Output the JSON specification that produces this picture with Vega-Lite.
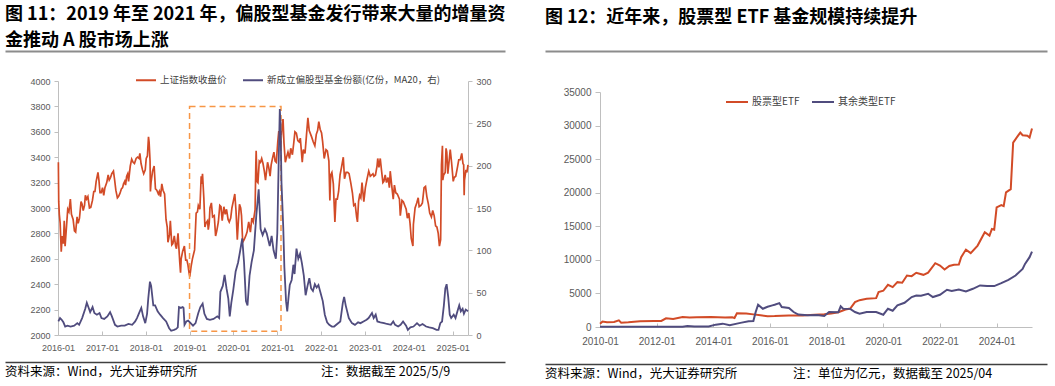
{
"$schema": "https://vega.github.io/schema/vega-lite/v6.json",
"background": "white",
"padding": {"left": 5, "top": 5, "right": 0, "bottom": 0},
"config": {
  "font": "Noto Sans CJK SC",
  "view": {"stroke": null},
  "axis": {"labelFont": "Liberation Sans", "labelColor": "#595959", "domainColor": "#BFBFBF", "tickColor": "#BFBFBF", "grid": false, "labelFlush": false, "labelOverlap": false},
  "title": {"anchor": "start", "frame": "bounds", "font": "Noto Sans CJK SC", "color": "#000000"},
  "legend": {"labelFont": "Noto Sans CJK SC", "labelColor": "#404040", "symbolStrokeWidth": 2, "symbolSize": 400, "labelOffset": 3, "labelLimit": 400}
},
"datasets": {
"box": [{"x0": "2019-01-01", "x1": "2021-02-01", "y0": 2030, "y1": 3800}],
"sse": [
{"d":"2016-01-04","v":3360},{"d":"2016-01-07","v":3050},{"d":"2016-01-12","v":2950},{"d":"2016-01-19","v":2880},{"d":"2016-01-28","v":2655},
{"d":"2016-02-05","v":2780},{"d":"2016-02-15","v":2720},{"d":"2016-02-22","v":2900},{"d":"2016-02-29","v":2700},{"d":"2016-03-10","v":2830},
{"d":"2016-03-22","v":2990},{"d":"2016-04-01","v":2970},{"d":"2016-04-13","v":3070},{"d":"2016-04-22","v":2950},{"d":"2016-05-06","v":2910},
{"d":"2016-05-17","v":2820},{"d":"2016-05-27","v":2810},{"d":"2016-06-08","v":2930},{"d":"2016-06-17","v":2880},{"d":"2016-06-28","v":2920},
{"d":"2016-07-11","v":3050},{"d":"2016-07-20","v":3030},{"d":"2016-07-29","v":2980},{"d":"2016-08-09","v":3020},{"d":"2016-08-16","v":3100},
{"d":"2016-08-26","v":3070},{"d":"2016-09-06","v":3090},{"d":"2016-09-19","v":3000},{"d":"2016-09-30","v":3005},{"d":"2016-10-14","v":3060},
{"d":"2016-10-25","v":3130},{"d":"2016-11-04","v":3130},{"d":"2016-11-14","v":3210},{"d":"2016-11-25","v":3260},{"d":"2016-11-29","v":3280},
{"d":"2016-12-07","v":3220},{"d":"2016-12-16","v":3120},{"d":"2016-12-26","v":3120},{"d":"2017-01-06","v":3160},{"d":"2017-01-16","v":3100},
{"d":"2017-01-26","v":3160},{"d":"2017-02-10","v":3200},{"d":"2017-02-22","v":3260},{"d":"2017-03-03","v":3220},{"d":"2017-03-14","v":3240},
{"d":"2017-03-24","v":3270},{"d":"2017-04-07","v":3290},{"d":"2017-04-17","v":3220},{"d":"2017-04-27","v":3140},{"d":"2017-05-10","v":3080},
{"d":"2017-05-19","v":3090},{"d":"2017-05-31","v":3115},{"d":"2017-06-12","v":3150},{"d":"2017-06-22","v":3160},{"d":"2017-06-30","v":3190},
{"d":"2017-07-10","v":3210},{"d":"2017-07-17","v":3180},{"d":"2017-07-26","v":3250},{"d":"2017-08-04","v":3270},{"d":"2017-08-11","v":3210},
{"d":"2017-08-25","v":3330},{"d":"2017-09-06","v":3385},{"d":"2017-09-18","v":3360},{"d":"2017-09-29","v":3350},{"d":"2017-10-13","v":3390},
{"d":"2017-10-25","v":3400},{"d":"2017-11-06","v":3390},{"d":"2017-11-13","v":3430},{"d":"2017-11-23","v":3350},{"d":"2017-12-05","v":3300},
{"d":"2017-12-15","v":3270},{"d":"2017-12-28","v":3300},{"d":"2018-01-05","v":3390},{"d":"2018-01-15","v":3410},{"d":"2018-01-24","v":3560},
{"d":"2018-01-29","v":3520},{"d":"2018-02-06","v":3370},{"d":"2018-02-09","v":3130},{"d":"2018-02-14","v":3200},{"d":"2018-02-27","v":3290},
{"d":"2018-03-12","v":3330},{"d":"2018-03-23","v":3150},{"d":"2018-04-03","v":3140},{"d":"2018-04-16","v":3110},{"d":"2018-04-24","v":3130},
{"d":"2018-05-04","v":3090},{"d":"2018-05-15","v":3190},{"d":"2018-05-25","v":3140},{"d":"2018-06-07","v":3110},{"d":"2018-06-19","v":2910},
{"d":"2018-06-29","v":2850},{"d":"2018-07-05","v":2730},{"d":"2018-07-18","v":2790},{"d":"2018-07-25","v":2900},{"d":"2018-08-06","v":2710},
{"d":"2018-08-15","v":2720},{"d":"2018-08-27","v":2780},{"d":"2018-09-07","v":2700},{"d":"2018-09-14","v":2680},{"d":"2018-09-27","v":2800},
{"d":"2018-10-11","v":2580},{"d":"2018-10-18","v":2490},{"d":"2018-10-23","v":2600},{"d":"2018-11-05","v":2660},{"d":"2018-11-19","v":2700},
{"d":"2018-11-30","v":2590},{"d":"2018-12-10","v":2590},{"d":"2018-12-19","v":2550},{"d":"2018-12-28","v":2490},{"d":"2019-01-03","v":2460},
{"d":"2019-01-14","v":2540},{"d":"2019-01-25","v":2600},{"d":"2019-02-12","v":2670},{"d":"2019-02-25","v":2960},{"d":"2019-03-08","v":2970},
{"d":"2019-03-15","v":3020},{"d":"2019-03-28","v":2990},{"d":"2019-04-08","v":3250},{"d":"2019-04-12","v":3190},{"d":"2019-04-19","v":3270},
{"d":"2019-04-30","v":3080},{"d":"2019-05-09","v":2850},{"d":"2019-05-17","v":2880},{"d":"2019-05-31","v":2900},{"d":"2019-06-06","v":2830},
{"d":"2019-06-14","v":2880},{"d":"2019-06-20","v":3000},{"d":"2019-07-02","v":3040},{"d":"2019-07-12","v":2930},{"d":"2019-07-26","v":2940},
{"d":"2019-08-06","v":2780},{"d":"2019-08-16","v":2820},{"d":"2019-08-29","v":2890},{"d":"2019-09-10","v":3020},{"d":"2019-09-20","v":3010},
{"d":"2019-09-30","v":2900},{"d":"2019-10-14","v":3010},{"d":"2019-10-25","v":2950},{"d":"2019-11-05","v":2990},{"d":"2019-11-18","v":2910},
{"d":"2019-11-28","v":2890},{"d":"2019-12-10","v":2920},{"d":"2019-12-20","v":3000},{"d":"2019-12-31","v":3050},{"d":"2020-01-13","v":3110},
{"d":"2020-01-23","v":2980},{"d":"2020-02-03","v":2750},{"d":"2020-02-12","v":2900},{"d":"2020-02-21","v":3030},{"d":"2020-03-02","v":3000},
{"d":"2020-03-09","v":2940},{"d":"2020-03-19","v":2730},{"d":"2020-03-31","v":2750},{"d":"2020-04-13","v":2780},{"d":"2020-04-24","v":2810},
{"d":"2020-05-08","v":2890},{"d":"2020-05-22","v":2810},{"d":"2020-06-03","v":2920},{"d":"2020-06-15","v":2890},{"d":"2020-06-30","v":2985},
{"d":"2020-07-06","v":3330},{"d":"2020-07-09","v":3450},{"d":"2020-07-16","v":3210},{"d":"2020-07-24","v":3200},{"d":"2020-08-04","v":3370},
{"d":"2020-08-14","v":3360},{"d":"2020-08-24","v":3390},{"d":"2020-09-04","v":3350},{"d":"2020-09-15","v":3290},{"d":"2020-09-25","v":3220},
{"d":"2020-10-12","v":3360},{"d":"2020-10-22","v":3320},{"d":"2020-11-02","v":3250},{"d":"2020-11-11","v":3340},{"d":"2020-11-24","v":3400},
{"d":"2020-12-04","v":3440},{"d":"2020-12-14","v":3370},{"d":"2020-12-24","v":3360},{"d":"2021-01-05","v":3520},{"d":"2021-01-13","v":3600},
{"d":"2021-01-22","v":3600},{"d":"2021-01-29","v":3480},{"d":"2021-02-10","v":3650},{"d":"2021-02-18","v":3700},{"d":"2021-02-26","v":3510},
{"d":"2021-03-09","v":3360},{"d":"2021-03-19","v":3400},{"d":"2021-03-31","v":3440},{"d":"2021-04-13","v":3390},{"d":"2021-04-23","v":3470},
{"d":"2021-05-07","v":3420},{"d":"2021-05-18","v":3510},{"d":"2021-05-28","v":3600},{"d":"2021-06-09","v":3590},{"d":"2021-06-21","v":3530},
{"d":"2021-07-02","v":3520},{"d":"2021-07-12","v":3550},{"d":"2021-07-28","v":3360},{"d":"2021-08-06","v":3460},{"d":"2021-08-20","v":3430},
{"d":"2021-09-01","v":3570},{"d":"2021-09-13","v":3710},{"d":"2021-09-24","v":3610},{"d":"2021-10-14","v":3560},{"d":"2021-10-28","v":3520},
{"d":"2021-11-10","v":3490},{"d":"2021-11-22","v":3580},{"d":"2021-12-03","v":3610},{"d":"2021-12-13","v":3680},{"d":"2021-12-24","v":3620},
{"d":"2022-01-05","v":3590},{"d":"2022-01-14","v":3520},{"d":"2022-01-27","v":3390},{"d":"2022-02-11","v":3460},{"d":"2022-02-22","v":3450},
{"d":"2022-03-07","v":3370},{"d":"2022-03-15","v":3060},{"d":"2022-03-22","v":3260},{"d":"2022-04-01","v":3280},{"d":"2022-04-13","v":3190},
{"d":"2022-04-26","v":2890},{"d":"2022-05-05","v":3070},{"d":"2022-05-16","v":3070},{"d":"2022-05-27","v":3130},{"d":"2022-06-08","v":3260},
{"d":"2022-06-20","v":3320},{"d":"2022-07-05","v":3400},{"d":"2022-07-15","v":3230},{"d":"2022-07-28","v":3280},{"d":"2022-08-11","v":3280},
{"d":"2022-08-22","v":3270},{"d":"2022-09-05","v":3200},{"d":"2022-09-19","v":3120},{"d":"2022-09-30","v":3020},{"d":"2022-10-12","v":3030},
{"d":"2022-10-24","v":2930},{"d":"2022-10-31","v":2890},{"d":"2022-11-09","v":3050},{"d":"2022-11-18","v":3100},{"d":"2022-11-28","v":3080},
{"d":"2022-12-08","v":3200},{"d":"2022-12-23","v":3050},{"d":"2023-01-05","v":3160},{"d":"2023-01-17","v":3220},{"d":"2023-02-02","v":3290},
{"d":"2023-02-15","v":3250},{"d":"2023-02-27","v":3260},{"d":"2023-03-09","v":3270},{"d":"2023-03-17","v":3250},{"d":"2023-03-30","v":3260},
{"d":"2023-04-12","v":3330},{"d":"2023-04-18","v":3390},{"d":"2023-04-28","v":3320},{"d":"2023-05-09","v":3390},{"d":"2023-05-19","v":3300},
{"d":"2023-05-31","v":3200},{"d":"2023-06-08","v":3210},{"d":"2023-06-19","v":3260},{"d":"2023-06-30","v":3200},{"d":"2023-07-13","v":3240},
{"d":"2023-07-24","v":3160},{"d":"2023-07-31","v":3290},{"d":"2023-08-11","v":3190},{"d":"2023-08-25","v":3070},{"d":"2023-09-04","v":3180},
{"d":"2023-09-15","v":3120},{"d":"2023-09-28","v":3110},{"d":"2023-10-16","v":3070},{"d":"2023-10-23","v":2940},{"d":"2023-11-06","v":3060},
{"d":"2023-11-17","v":3050},{"d":"2023-11-29","v":3020},{"d":"2023-12-11","v":2990},{"d":"2023-12-21","v":2920},{"d":"2024-01-02","v":2960},
{"d":"2024-01-12","v":2880},{"d":"2024-01-22","v":2760},{"d":"2024-02-05","v":2700},{"d":"2024-02-09","v":2870},{"d":"2024-02-23","v":3000},
{"d":"2024-03-08","v":3040},{"d":"2024-03-20","v":3080},{"d":"2024-03-28","v":3010},{"d":"2024-04-12","v":3020},{"d":"2024-04-24","v":3040},
{"d":"2024-05-08","v":3160},{"d":"2024-05-20","v":3170},{"d":"2024-05-31","v":3090},{"d":"2024-06-13","v":3030},{"d":"2024-06-24","v":2960},
{"d":"2024-07-08","v":2930},{"d":"2024-07-19","v":2980},{"d":"2024-07-31","v":2940},{"d":"2024-08-12","v":2860},{"d":"2024-08-23","v":2850},
{"d":"2024-09-03","v":2800},{"d":"2024-09-13","v":2700},{"d":"2024-09-23","v":2750},{"d":"2024-09-27","v":3090},{"d":"2024-09-30","v":3340},
{"d":"2024-10-08","v":3490},{"d":"2024-10-11","v":3220},{"d":"2024-10-18","v":3260},{"d":"2024-10-31","v":3280},{"d":"2024-11-07","v":3470},
{"d":"2024-11-13","v":3440},{"d":"2024-11-22","v":3270},{"d":"2024-12-06","v":3400},{"d":"2024-12-12","v":3460},{"d":"2024-12-23","v":3360},
{"d":"2025-01-06","v":3210},{"d":"2025-01-14","v":3240},{"d":"2025-01-27","v":3250},{"d":"2025-02-10","v":3320},{"d":"2025-02-21","v":3380},
{"d":"2025-03-06","v":3380},{"d":"2025-03-18","v":3430},{"d":"2025-03-28","v":3350},{"d":"2025-04-03","v":3340},{"d":"2025-04-07","v":3100},
{"d":"2025-04-10","v":3220},{"d":"2025-04-22","v":3300},{"d":"2025-04-30","v":3280},{"d":"2025-05-09","v":3340}
],
"fund": [
{"d":"2016-01-04","v":16},{"d":"2016-01-18","v":20},{"d":"2016-02-01","v":18},{"d":"2016-02-15","v":15},{"d":"2016-03-01","v":10},
{"d":"2016-03-20","v":11},{"d":"2016-04-15","v":10},{"d":"2016-05-15","v":11},{"d":"2016-06-10","v":14},{"d":"2016-06-25","v":12},
{"d":"2016-07-20","v":20},{"d":"2016-08-15","v":31},{"d":"2016-08-28","v":38},{"d":"2016-09-10","v":33},{"d":"2016-09-25","v":27},
{"d":"2016-10-15","v":33},{"d":"2016-10-30","v":26},{"d":"2016-11-20","v":24},{"d":"2016-12-12","v":26},{"d":"2016-12-28","v":20},
{"d":"2017-01-20","v":19},{"d":"2017-02-15","v":22},{"d":"2017-03-10","v":27},{"d":"2017-03-25","v":22},{"d":"2017-04-20","v":12},
{"d":"2017-05-10","v":10},{"d":"2017-06-10","v":11},{"d":"2017-07-10","v":11},{"d":"2017-08-10","v":13},{"d":"2017-09-10","v":12},
{"d":"2017-10-05","v":16},{"d":"2017-10-20","v":20},{"d":"2017-11-10","v":27},{"d":"2017-11-25","v":32},{"d":"2017-12-10","v":22},
{"d":"2017-12-28","v":14},{"d":"2018-01-12","v":25},{"d":"2018-01-22","v":43},{"d":"2018-02-05","v":63},{"d":"2018-02-15","v":58},
{"d":"2018-03-05","v":35},{"d":"2018-03-20","v":35},{"d":"2018-04-10","v":28},{"d":"2018-05-01","v":24},{"d":"2018-05-25","v":20},
{"d":"2018-06-20","v":16},{"d":"2018-07-15","v":8},{"d":"2018-08-01","v":5},{"d":"2018-08-25","v":6},{"d":"2018-09-10","v":7},
{"d":"2018-09-25","v":9},{"d":"2018-10-05","v":33},{"d":"2018-10-20","v":32},{"d":"2018-11-05","v":33},{"d":"2018-11-12","v":32},
{"d":"2018-11-20","v":12},{"d":"2018-12-05","v":16},{"d":"2018-12-20","v":17},{"d":"2019-01-10","v":14},{"d":"2019-01-30","v":11},
{"d":"2019-02-20","v":14},{"d":"2019-03-15","v":26},{"d":"2019-04-01","v":33},{"d":"2019-04-20","v":37},{"d":"2019-05-05","v":25},
{"d":"2019-05-25","v":19},{"d":"2019-06-20","v":18},{"d":"2019-07-20","v":19},{"d":"2019-08-20","v":22},{"d":"2019-09-05","v":20},
{"d":"2019-09-15","v":51},{"d":"2019-10-05","v":58},{"d":"2019-10-20","v":71},{"d":"2019-11-05","v":55},{"d":"2019-11-20","v":43},
{"d":"2019-12-02","v":22},{"d":"2019-12-15","v":38},{"d":"2020-01-01","v":54},{"d":"2020-01-20","v":75},{"d":"2020-02-10","v":86},
{"d":"2020-02-25","v":98},{"d":"2020-03-15","v":114},{"d":"2020-03-30","v":86},{"d":"2020-04-15","v":40},{"d":"2020-04-28","v":35},
{"d":"2020-05-15","v":70},{"d":"2020-06-01","v":86},{"d":"2020-06-20","v":100},{"d":"2020-07-10","v":141},{"d":"2020-07-30","v":172},
{"d":"2020-08-15","v":125},{"d":"2020-09-01","v":118},{"d":"2020-09-20","v":125},{"d":"2020-10-05","v":120},{"d":"2020-10-30","v":105},
{"d":"2020-11-15","v":117},{"d":"2020-12-01","v":100},{"d":"2020-12-20","v":90},{"d":"2021-01-01","v":120},{"d":"2021-01-12","v":200},
{"d":"2021-01-22","v":267},{"d":"2021-01-28","v":250},{"d":"2021-02-05","v":180},{"d":"2021-02-20","v":126},{"d":"2021-03-01","v":80},
{"d":"2021-03-15","v":40},{"d":"2021-03-25","v":28},{"d":"2021-04-05","v":45},{"d":"2021-04-15","v":59},{"d":"2021-05-01","v":65},
{"d":"2021-05-15","v":83},{"d":"2021-05-25","v":72},{"d":"2021-06-10","v":102},{"d":"2021-06-25","v":90},{"d":"2021-07-10","v":96},
{"d":"2021-07-25","v":85},{"d":"2021-08-10","v":70},{"d":"2021-08-25","v":47},{"d":"2021-09-10","v":58},{"d":"2021-09-25","v":67},
{"d":"2021-10-10","v":55},{"d":"2021-10-25","v":52},{"d":"2021-11-10","v":60},{"d":"2021-11-25","v":56},{"d":"2021-12-10","v":59},
{"d":"2021-12-25","v":51},{"d":"2022-01-15","v":40},{"d":"2022-02-01","v":24},{"d":"2022-02-20","v":15},{"d":"2022-03-10","v":12},
{"d":"2022-04-01","v":10},{"d":"2022-04-20","v":10},{"d":"2022-05-15","v":13},{"d":"2022-06-10","v":16},{"d":"2022-07-01","v":38},
{"d":"2022-07-12","v":45},{"d":"2022-07-25","v":35},{"d":"2022-08-20","v":20},{"d":"2022-09-15","v":14},{"d":"2022-10-10","v":12},
{"d":"2022-11-05","v":15},{"d":"2022-11-25","v":14},{"d":"2022-12-20","v":16},{"d":"2023-01-15","v":18},{"d":"2023-02-01","v":20},
{"d":"2023-03-01","v":26},{"d":"2023-03-15","v":20},{"d":"2023-04-01","v":24},{"d":"2023-04-15","v":16},{"d":"2023-05-10","v":15},
{"d":"2023-06-10","v":14},{"d":"2023-07-05","v":13},{"d":"2023-08-05","v":12},{"d":"2023-08-25","v":16},{"d":"2023-09-10","v":12},
{"d":"2023-10-05","v":10},{"d":"2023-10-25","v":12},{"d":"2023-11-15","v":16},{"d":"2023-12-10","v":11},{"d":"2023-12-25","v":6},
{"d":"2024-01-15","v":9},{"d":"2024-02-10","v":10},{"d":"2024-03-10","v":14},{"d":"2024-04-01","v":11},{"d":"2024-04-25","v":13},
{"d":"2024-05-25","v":10},{"d":"2024-06-20","v":9},{"d":"2024-07-20","v":8},{"d":"2024-08-20","v":6},{"d":"2024-09-05","v":6},
{"d":"2024-09-20","v":14},{"d":"2024-10-05","v":16},{"d":"2024-10-20","v":35},{"d":"2024-11-01","v":55},{"d":"2024-11-12","v":60},
{"d":"2024-11-25","v":45},{"d":"2024-12-08","v":24},{"d":"2024-12-20","v":20},{"d":"2025-01-10","v":24},{"d":"2025-01-25","v":20},
{"d":"2025-02-10","v":28},{"d":"2025-02-25","v":35},{"d":"2025-03-10","v":28},{"d":"2025-03-25","v":31},{"d":"2025-04-05","v":25},
{"d":"2025-04-20","v":30},{"d":"2025-05-09","v":28}
],
"etf": [
{"d":"2010-01-01","v":500,"s":"股票型ETF"},{"d":"2010-02-01","v":800,"s":"股票型ETF"},{"d":"2010-04-01","v":700,"s":"股票型ETF"},{"d":"2010-07-01","v":750,"s":"股票型ETF"},{"d":"2010-09-01","v":1000,"s":"股票型ETF"},{"d":"2010-10-01","v":650,"s":"股票型ETF"},
{"d":"2011-01-01","v":700,"s":"股票型ETF"},{"d":"2011-06-01","v":850,"s":"股票型ETF"},{"d":"2011-12-01","v":880,"s":"股票型ETF"},{"d":"2012-03-01","v":900,"s":"股票型ETF"},{"d":"2012-05-01","v":1300,"s":"股票型ETF"},{"d":"2012-08-01","v":1200,"s":"股票型ETF"},
{"d":"2012-12-01","v":1500,"s":"股票型ETF"},{"d":"2013-03-01","v":1420,"s":"股票型ETF"},{"d":"2013-06-01","v":1450,"s":"股票型ETF"},{"d":"2013-12-01","v":1480,"s":"股票型ETF"},{"d":"2014-03-01","v":1450,"s":"股票型ETF"},{"d":"2014-06-01","v":1420,"s":"股票型ETF"},
{"d":"2014-09-01","v":1450,"s":"股票型ETF"},{"d":"2014-10-01","v":1350,"s":"股票型ETF"},{"d":"2014-11-01","v":2050,"s":"股票型ETF"},{"d":"2015-03-01","v":2000,"s":"股票型ETF"},{"d":"2015-06-01","v":1880,"s":"股票型ETF"},{"d":"2015-09-01","v":1750,"s":"股票型ETF"},
{"d":"2015-12-01","v":1600,"s":"股票型ETF"},{"d":"2016-03-01","v":1620,"s":"股票型ETF"},{"d":"2016-06-01","v":1680,"s":"股票型ETF"},{"d":"2016-09-01","v":1700,"s":"股票型ETF"},{"d":"2016-12-01","v":1720,"s":"股票型ETF"},{"d":"2017-03-01","v":1730,"s":"股票型ETF"},
{"d":"2017-06-01","v":1780,"s":"股票型ETF"},{"d":"2017-12-01","v":1900,"s":"股票型ETF"},{"d":"2018-03-01","v":2000,"s":"股票型ETF"},{"d":"2018-06-01","v":2200,"s":"股票型ETF"},{"d":"2018-09-01","v":2600,"s":"股票型ETF"},{"d":"2018-11-01","v":2750,"s":"股票型ETF"},
{"d":"2019-01-01","v":3700,"s":"股票型ETF"},{"d":"2019-03-01","v":4000,"s":"股票型ETF"},{"d":"2019-06-01","v":4200,"s":"股票型ETF"},{"d":"2019-10-01","v":4300,"s":"股票型ETF"},{"d":"2019-11-01","v":5200,"s":"股票型ETF"},{"d":"2020-01-01","v":5400,"s":"股票型ETF"},
{"d":"2020-03-01","v":6290,"s":"股票型ETF"},{"d":"2020-05-01","v":5940,"s":"股票型ETF"},{"d":"2020-07-01","v":6680,"s":"股票型ETF"},{"d":"2020-09-01","v":6600,"s":"股票型ETF"},{"d":"2020-11-01","v":7670,"s":"股票型ETF"},{"d":"2021-01-01","v":7570,"s":"股票型ETF"},
{"d":"2021-03-01","v":8070,"s":"股票型ETF"},{"d":"2021-06-01","v":7770,"s":"股票型ETF"},{"d":"2021-08-01","v":8100,"s":"股票型ETF"},{"d":"2021-11-01","v":9500,"s":"股票型ETF"},{"d":"2022-01-01","v":9160,"s":"股票型ETF"},{"d":"2022-03-01","v":8560,"s":"股票型ETF"},
{"d":"2022-05-01","v":9100,"s":"股票型ETF"},{"d":"2022-07-01","v":9260,"s":"股票型ETF"},{"d":"2022-09-01","v":9300,"s":"股票型ETF"},{"d":"2022-10-01","v":10400,"s":"股票型ETF"},{"d":"2022-12-01","v":11530,"s":"股票型ETF"},{"d":"2023-02-01","v":11000,"s":"股票型ETF"},
{"d":"2023-05-01","v":12130,"s":"股票型ETF"},{"d":"2023-08-01","v":14110,"s":"股票型ETF"},{"d":"2023-10-01","v":13610,"s":"股票型ETF"},{"d":"2023-11-01","v":14600,"s":"股票型ETF"},{"d":"2023-12-01","v":14500,"s":"股票型ETF"},{"d":"2024-01-01","v":17820,"s":"股票型ETF"},
{"d":"2024-03-01","v":18170,"s":"股票型ETF"},{"d":"2024-04-01","v":18000,"s":"股票型ETF"},{"d":"2024-05-01","v":20050,"s":"股票型ETF"},{"d":"2024-07-01","v":20540,"s":"股票型ETF"},{"d":"2024-08-01","v":27470,"s":"股票型ETF"},{"d":"2024-10-01","v":28460,"s":"股票型ETF"},
{"d":"2024-11-01","v":28960,"s":"股票型ETF"},{"d":"2024-12-01","v":28560,"s":"股票型ETF"},{"d":"2025-02-01","v":28500,"s":"股票型ETF"},{"d":"2025-03-01","v":28220,"s":"股票型ETF"},{"d":"2025-04-01","v":29550,"s":"股票型ETF"},
{"d":"2010-01-01","v":30,"s":"其余类型ETF"},{"d":"2012-12-01","v":40,"s":"其余类型ETF"},{"d":"2013-02-01","v":150,"s":"其余类型ETF"},{"d":"2013-05-01","v":60,"s":"其余类型ETF"},{"d":"2013-11-01","v":80,"s":"其余类型ETF"},{"d":"2014-02-01","v":350,"s":"其余类型ETF"},
{"d":"2014-05-01","v":500,"s":"其余类型ETF"},{"d":"2014-08-01","v":250,"s":"其余类型ETF"},{"d":"2014-11-01","v":500,"s":"其余类型ETF"},{"d":"2015-01-01","v":650,"s":"其余类型ETF"},{"d":"2015-04-01","v":850,"s":"其余类型ETF"},{"d":"2015-06-01","v":900,"s":"其余类型ETF"},
{"d":"2015-07-01","v":2230,"s":"其余类型ETF"},{"d":"2015-08-01","v":3320,"s":"其余类型ETF"},{"d":"2015-10-01","v":2720,"s":"其余类型ETF"},{"d":"2015-12-01","v":3020,"s":"其余类型ETF"},{"d":"2016-02-01","v":3220,"s":"其余类型ETF"},{"d":"2016-03-01","v":3320,"s":"其余类型ETF"},
{"d":"2016-05-01","v":3560,"s":"其余类型ETF"},{"d":"2016-06-01","v":2970,"s":"其余类型ETF"},{"d":"2016-09-01","v":2820,"s":"其余类型ETF"},{"d":"2016-11-01","v":2230,"s":"其余类型ETF"},{"d":"2017-01-01","v":1850,"s":"其余类型ETF"},{"d":"2017-05-01","v":1750,"s":"其余类型ETF"},
{"d":"2017-09-01","v":1800,"s":"其余类型ETF"},{"d":"2017-12-01","v":1630,"s":"其余类型ETF"},{"d":"2018-02-01","v":2230,"s":"其余类型ETF"},{"d":"2018-06-01","v":2200,"s":"其余类型ETF"},{"d":"2018-07-01","v":3070,"s":"其余类型ETF"},{"d":"2018-08-01","v":2720,"s":"其余类型ETF"},
{"d":"2018-11-01","v":2700,"s":"其余类型ETF"},{"d":"2019-01-01","v":2230,"s":"其余类型ETF"},{"d":"2019-03-01","v":1980,"s":"其余类型ETF"},{"d":"2019-06-01","v":2230,"s":"其余类型ETF"},{"d":"2019-10-01","v":2230,"s":"其余类型ETF"},{"d":"2020-01-01","v":1830,"s":"其余类型ETF"},
{"d":"2020-03-01","v":2720,"s":"其余类型ETF"},{"d":"2020-05-01","v":2425,"s":"其余类型ETF"},{"d":"2020-07-01","v":3220,"s":"其余类型ETF"},{"d":"2020-10-01","v":3610,"s":"其余类型ETF"},{"d":"2021-01-01","v":4460,"s":"其余类型ETF"},{"d":"2021-03-01","v":4700,"s":"其余类型ETF"},
{"d":"2021-05-01","v":4650,"s":"其余类型ETF"},{"d":"2021-08-01","v":4950,"s":"其余类型ETF"},{"d":"2021-10-01","v":4460,"s":"其余类型ETF"},{"d":"2022-01-01","v":4800,"s":"其余类型ETF"},{"d":"2022-04-01","v":5540,"s":"其余类型ETF"},{"d":"2022-06-01","v":5350,"s":"其余类型ETF"},
{"d":"2022-09-01","v":5590,"s":"其余类型ETF"},{"d":"2022-12-01","v":5300,"s":"其余类型ETF"},{"d":"2023-03-01","v":5690,"s":"其余类型ETF"},{"d":"2023-06-01","v":6190,"s":"其余类型ETF"},{"d":"2023-09-01","v":6100,"s":"其余类型ETF"},{"d":"2023-12-01","v":6090,"s":"其余类型ETF"},
{"d":"2024-03-01","v":6530,"s":"其余类型ETF"},{"d":"2024-06-01","v":7030,"s":"其余类型ETF"},{"d":"2024-09-01","v":7670,"s":"其余类型ETF"},{"d":"2024-12-01","v":8660,"s":"其余类型ETF"},{"d":"2025-01-01","v":9400,"s":"其余类型ETF"},{"d":"2025-03-01","v":10400,"s":"其余类型ETF"},
{"d":"2025-04-01","v":11240,"s":"其余类型ETF"}
]
},
"spacing": -13,
"resolve": {"scale": {"color": "independent"}, "legend": {"color": "independent"}},
"hconcat": [
{
  "spacing": 13,
  "resolve": {"scale": {"color": "independent"}, "legend": {"color": "independent"}},
  "vconcat": [
    {
      "width": 447, "height": 1,
      "title": {"text": ["图 11：2019 年至 2021 年，偏股型基金发行带来大量的增量资", "金推动 A 股市场上涨"], "fontSize": 18, "fontWeight": "bold", "lineHeight": 26, "offset": -5},
      "data": {"values": [{}]},
      "mark": {"type": "text"},
      "encoding": {
        "text": {"value": ""},
        "x": {"datum": 0, "type": "quantitative", "scale": {"domain": [0, 1], "range": [-53, 447]},
              "axis": {"orient": "bottom", "labels": false, "ticks": false, "title": null, "domainColor": "#8C8C8C", "domainWidth": 2}}
      }
    },
    {
      "spacing": 4,
      "resolve": {"scale": {"color": "independent"}, "legend": {"color": "independent"}},
      "vconcat": [
        {
          "width": 410, "height": 254,
          "layer": [
            {
              "layer": [
                {
                  "data": {"name": "sse"},
                  "mark": {"type": "line", "strokeWidth": 1.7},
                  "encoding": {
                    "x": {"field": "d", "type": "temporal", "scale": {"domain": ["2016-01-01", "2025-05-09"]},
                          "axis": {"title": null, "format": "%Y-%m", "tickCount": {"interval": "year", "step": 1}, "labelFontSize": 9, "tickSize": -4, "labelPadding": 12}},
                    "y": {"field": "v", "type": "quantitative", "scale": {"domain": [2000, 4000], "nice": false, "zero": false},
                          "axis": {"title": null, "orient": "left", "format": "d", "tickCount": 11, "values": [2000, 2200, 2400, 2600, 2800, 3000, 3200, 3400, 3600, 3800, 4000], "labelFontSize": 9, "tickSize": 4, "labelPadding": 4, "minExtent": 53}},
                    "color": {"datum": "上证指数收盘价", "type": "nominal",
                              "scale": {"domain": ["上证指数收盘价", "新成立偏股型基金份额(亿份，MA20，右)"], "range": ["#D24B27", "#504C7E"]},
                              "legend": {"orient": "none", "legendX": 77, "legendY": -12, "direction": "horizontal", "title": null, "labelFontSize": 9.5, "columnPadding": 12}}
                  }
                },
                {
                  "data": {"name": "box"},
                  "mark": {"type": "rect", "filled": false, "stroke": "#F79646", "strokeDash": [6, 4], "strokeWidth": 1.5},
                  "encoding": {
                    "x": {"field": "x0", "type": "temporal"}, "x2": {"field": "x1"},
                    "y": {"field": "y0", "type": "quantitative",
                          "axis": {"title": null, "orient": "left", "format": "d", "tickCount": 11, "values": [2000, 2200, 2400, 2600, 2800, 3000, 3200, 3400, 3600, 3800, 4000], "labelFontSize": 9, "tickSize": 4, "labelPadding": 4, "minExtent": 53}},
                    "y2": {"field": "y1"}
                  }
                }
              ]
            },
            {
              "data": {"name": "fund"},
              "mark": {"type": "line", "strokeWidth": 1.8},
              "encoding": {
                "x": {"field": "d", "type": "temporal"},
                "y": {"field": "v", "type": "quantitative", "scale": {"domain": [0, 300], "nice": false},
                      "axis": {"title": null, "orient": "right", "format": "d", "tickCount": 7, "values": [0, 50, 100, 150, 200, 250, 300], "labelFontSize": 9, "tickSize": 4, "labelPadding": 4}},
                "color": {"datum": "新成立偏股型基金份额(亿份，MA20，右)", "type": "nominal"}
              }
            }
          ],
          "resolve": {"scale": {"y": "independent"}, "axis": {"y": "independent"}}
        },
        {
          "width": 447, "height": 1,
          "title": {"text": "资料来源：Wind，光大证券研究所\u3000\u3000\u3000\u3000\u3000\u3000\u3000\u3000\u3000\u00a0\u00a0\u00a0\u00a0注：数据截至 2025/5/9", "orient": "bottom", "fontSize": 12.5, "fontWeight": "normal", "offset": -2},
          "data": {"values": [{}]},
          "mark": {"type": "text"},
          "encoding": {
            "text": {"value": ""},
            "x": {"datum": 0, "type": "quantitative", "scale": {"domain": [0, 1], "range": [-53, 447]},
                  "axis": {"orient": "top", "labels": false, "ticks": false, "title": null, "domainColor": "#404040", "domainWidth": 1.5}}
          }
        }
      ]
    }
  ]
},
{
  "spacing": 31,
  "resolve": {"scale": {"color": "independent"}, "legend": {"color": "independent"}},
  "vconcat": [
    {
      "width": 447, "height": 1,
      "title": {"text": "图 12：近年来，股票型 ETF 基金规模持续提升", "fontSize": 18, "fontWeight": "bold", "offset": 18},
      "data": {"values": [{}]},
      "mark": {"type": "text"},
      "encoding": {
        "text": {"value": ""},
        "x": {"datum": 0, "type": "quantitative", "scale": {"domain": [0, 1], "range": [-55, 447]},
              "axis": {"orient": "bottom", "labels": false, "ticks": false, "title": null, "domainColor": "#8C8C8C", "domainWidth": 2}}
      }
    },
    {
      "spacing": 12,
      "resolve": {"scale": {"color": "independent"}, "legend": {"color": "independent"}},
      "vconcat": [
        {
          "width": 432, "height": 235,
          "data": {"name": "etf"},
          "mark": {"type": "line", "strokeWidth": 2},
          "encoding": {
            "x": {"field": "d", "type": "temporal", "scale": {"domain": ["2010-01-01", "2025-04-01"]},
                  "axis": {"title": null, "format": "%Y-%m", "tickCount": {"interval": "year", "step": 2}, "labelFontSize": 10, "tickSize": -4, "labelPadding": 13}},
            "y": {"field": "v", "type": "quantitative", "scale": {"domain": [0, 35000], "nice": false},
                  "axis": {"title": null, "format": "d", "tickCount": 8, "values": [0, 5000, 10000, 15000, 20000, 25000, 30000, 35000], "labelFontSize": 10, "tickSize": 5, "labelPadding": 4, "minExtent": 55}},
            "color": {"field": "s", "type": "nominal",
                      "scale": {"domain": ["股票型ETF", "其余类型ETF"], "range": ["#D24B27", "#504C7E"]},
                      "legend": {"orient": "none", "legendX": 125, "legendY": -2, "direction": "horizontal", "title": null, "labelFontSize": 10, "columnPadding": 8, "symbolSize": 484}}
          }
        },
        {
          "width": 447, "height": 1,
          "title": {"text": "资料来源：Wind，光大证券研究所\u3000\u3000\u3000\u3000\u00a0\u00a0注：单位为亿元，数据截至 2025/04", "orient": "bottom", "fontSize": 12.5, "fontWeight": "normal", "offset": -2},
          "data": {"values": [{}]},
          "mark": {"type": "text"},
          "encoding": {
            "text": {"value": ""},
            "x": {"datum": 0, "type": "quantitative", "scale": {"domain": [0, 1], "range": [-55, 447]},
                  "axis": {"orient": "top", "labels": false, "ticks": false, "title": null, "domainColor": "#404040", "domainWidth": 1.5}}
          }
        }
      ]
    }
  ]
}
]
}
